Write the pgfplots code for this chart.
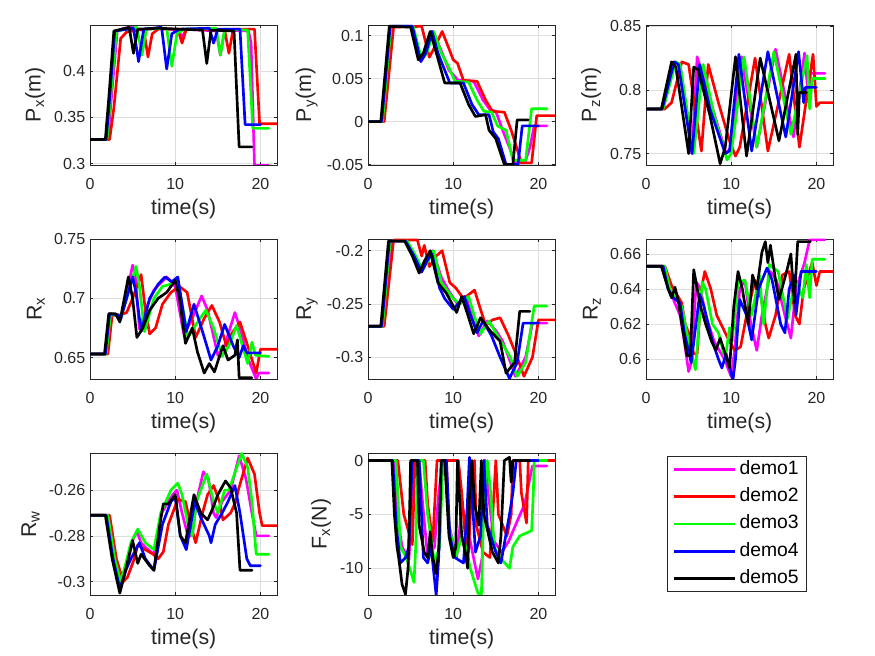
\documentclass[border=0pt]{standalone}
\usepackage{fontspec}
\setmainfont{Liberation Sans}
\usepackage{pgfplots}
\pgfplotsset{compat=1.18}
\definecolor{mg}{rgb}{1,0,1}
\definecolor{gr}{rgb}{0,1,0}
\definecolor{ax}{rgb}{0.15,0.15,0.15}
\pgfplotsset{
  mat/.style={
    scale only axis, width=140.625pt, height=105pt, anchor=south west,
    xmin=0, xmax=22, xtick={0,10,20},
    grid=major, major grid style={line width=0.4pt, draw=black!13},
    axis line style={line width=0.5pt, draw=ax},
    tick style={line width=0.5pt, draw=ax},
    tick align=inside, major tick length=2.5pt,
    ticklabel style={font=\fontsize{12}{12}\selectfont, text=ax},
    xticklabel style={yshift=-6.5pt},
    label style={font=\fontsize{16}{16}\selectfont, text=ax},
    xlabel={time(s)},
    scaled y ticks=false,
    yticklabel style={/pgf/number format/fixed, /pgf/number format/precision=3},
    /pgf/number format/assume math mode=true,
    every axis plot/.append style={line width=2pt, line join=round, line cap=round},
    clip=true,
  }
}
\begin{document}
\begin{tikzpicture}
\useasboundingbox (0,0) rectangle (656.25pt,492pt);
% ---------------- Px
\begin{axis}[mat, at={(67.5pt,368.25pt)}, ymin=0.2985, ymax=0.4495, ytick={0.3,0.35,0.4}, ylabel={P\textsubscript{x}(m)}]
\addplot[mg] coordinates {(0,0.326)(2.1,0.326)(2.5,0.37)(3.2,0.443)(4,0.446)(5,0.447)(6,0.444)(8,0.446)(10.4,0.444)(10.8,0.436)(11.3,0.445)(13,0.444)(14.8,0.443)(15.3,0.417)(15.8,0.444)(18.6,0.443)(18.9,0.43)(19.3,0.298)(21,0.298)};
\addplot[red] coordinates {(0,0.326)(2.3,0.326)(2.8,0.36)(3.6,0.435)(4.3,0.442)(6.3,0.445)(6.8,0.415)(7.3,0.44)(8,0.445)(10.3,0.445)(10.8,0.43)(11.3,0.445)(15.8,0.444)(16.3,0.419)(16.8,0.445)(19.3,0.445)(19.9,0.343)(22,0.343)};
\addplot[gr] coordinates {(0,0.326)(2.0,0.326)(2.4,0.37)(3.1,0.443)(5.5,0.447)(6.1,0.417)(6.6,0.445)(9,0.446)(9.6,0.405)(10.2,0.44)(11,0.445)(14.8,0.446)(15.3,0.417)(15.8,0.445)(18.5,0.444)(19.1,0.338)(21,0.338)};
\addplot[blue] coordinates {(0,0.326)(1.9,0.326)(2.3,0.37)(2.9,0.443)(5.1,0.446)(5.7,0.41)(6.3,0.445)(8.4,0.447)(9,0.402)(9.6,0.44)(10.5,0.445)(14,0.446)(14.5,0.43)(15,0.445)(17.6,0.445)(18.2,0.342)(20,0.342)};
\addplot[black] coordinates {(0,0.326)(1.8,0.326)(2.2,0.37)(2.8,0.443)(4.6,0.447)(5.1,0.419)(5.6,0.445)(8,0.446)(13.2,0.444)(13.7,0.408)(14.2,0.444)(16.9,0.443)(17.5,0.318)(19,0.318)};
\end{axis}
% ---------------- Py
\begin{axis}[mat, at={(276pt,368.25pt)}, ymin=-0.0505, ymax=0.1125, ytick={-0.05,0,0.05,0.1}, ylabel={P\textsubscript{y}(m)}]
\addplot[mg] coordinates {(0,0)(1.8,0)(2.8,0.111)(5.2,0.111)(6.2,0.07)(6.8,0.08)(7.6,0.105)(8.5,0.085)(9.5,0.06)(10.6,0.048)(12.4,0.047)(13.5,0.025)(14.3,0.014)(15,0.012)(15.8,-0.01)(17.3,-0.048)(18.4,-0.048)(19,-0.03)(19.5,-0.005)(21,-0.005)};
\addplot[red] coordinates {(0,0)(1.9,0)(3,0.11)(6.3,0.111)(7.2,0.075)(8,0.09)(8.7,0.105)(9.5,0.085)(10,0.072)(10.5,0.068)(11.2,0.048)(12.8,0.047)(13.8,0.025)(14.6,0.012)(16,0.011)(16.8,-0.01)(18,-0.048)(19.2,-0.048)(19.8,0.007)(22,0.007)};
\addplot[gr] coordinates {(0,0)(1.7,0)(2.7,0.111)(5.3,0.111)(6.3,0.072)(6.9,0.08)(7.7,0.105)(8.6,0.08)(9.4,0.065)(10.2,0.047)(11.8,0.046)(12.8,0.025)(13.6,0.012)(14.5,0.011)(15.2,-0.005)(16.2,-0.01)(17,-0.045)(18.5,-0.045)(19.2,0.015)(21,0.015)};
\addplot[blue] coordinates {(0,0)(1.6,0)(2.6,0.111)(5.2,0.111)(6.2,0.07)(6.8,0.08)(7.5,0.105)(8.2,0.08)(9.0,0.06)(9.6,0.045)(11.2,0.045)(12.2,0.02)(13,0.008)(14.2,0.008)(14.7,-0.012)(15.3,-0.02)(16.2,-0.05)(17.6,-0.05)(18.1,-0.005)(20,-0.005)};
\addplot[black] coordinates {(0,0)(1.5,0)(2.5,0.111)(5,0.11)(5.9,0.072)(6.5,0.08)(7.3,0.105)(8.3,0.07)(9,0.045)(10.8,0.045)(11.8,0.02)(12.6,0.006)(13.8,0.008)(14.2,-0.01)(15,-0.02)(16,-0.05)(17,-0.05)(17.5,0.002)(18.8,0.002)};
\end{axis}
% ---------------- Pz
\begin{axis}[mat, at={(484.5pt,368.25pt)}, ymin=0.741, ymax=0.851, ytick={0.75,0.8,0.85}, ylabel={P\textsubscript{z}(m)}]
\addplot[mg] coordinates {(0,0.785)(2,0.785)(3.4,0.822)(4,0.82)(5.4,0.75)(6,0.826)(6.5,0.815)(9.4,0.75)(10,0.755)(11.2,0.826)(13,0.755)(15.2,0.832)(17.3,0.763)(18.6,0.829)(19.1,0.79)(19.3,0.813)(21,0.813)};
\addplot[red] coordinates {(0,0.785)(2.2,0.785)(3,0.79)(4.2,0.822)(5,0.82)(6.5,0.752)(7.3,0.82)(8.5,0.79)(9.8,0.76)(10.5,0.748)(11,0.755)(12.8,0.825)(14.3,0.752)(16.8,0.828)(18,0.755)(19.6,0.828)(20,0.787)(20.4,0.79)(22,0.79)};
\addplot[gr] coordinates {(0,0.785)(2,0.785)(3.5,0.822)(4,0.82)(5.6,0.75)(6.7,0.82)(8,0.78)(9.5,0.745)(10,0.75)(11.5,0.826)(13,0.755)(15,0.83)(17,0.765)(18.9,0.827)(19.2,0.785)(19.5,0.809)(21,0.809)};
\addplot[blue] coordinates {(0,0.785)(1.9,0.785)(3.3,0.822)(3.8,0.82)(5.4,0.75)(6.3,0.82)(7.5,0.785)(9.3,0.75)(9.8,0.752)(10.9,0.828)(12.4,0.752)(14.3,0.83)(16.4,0.763)(17.9,0.83)(18.5,0.79)(18.7,0.802)(20,0.802)};
\addplot[black] coordinates {(0,0.785)(1.8,0.785)(3,0.822)(3.5,0.818)(5,0.75)(5.6,0.818)(6.1,0.816)(7.5,0.78)(8.7,0.742)(9.3,0.755)(10.5,0.826)(11.8,0.748)(13.4,0.825)(15.6,0.76)(17.6,0.828)(17.8,0.765)(18,0.798)(18.8,0.798)};
\end{axis}
% ---------------- Rx
\begin{axis}[mat, at={(67.5pt,207.75pt)}, ymin=0.632, ymax=0.75, ytick={0.65,0.7,0.75}, ylabel={R\textsubscript{x}}]
\addplot[mg] coordinates {(0,0.653)(1.9,0.653)(2.4,0.686)(3.3,0.686)(3.6,0.682)(4.2,0.7)(5.0,0.728)(5.3,0.72)(5.8,0.674)(6.5,0.69)(7.5,0.707)(9,0.718)(10,0.71)(11,0.67)(11.8,0.68)(13.1,0.702)(13.8,0.69)(15,0.652)(15.8,0.66)(17,0.688)(17.8,0.67)(18.5,0.65)(19.5,0.632)(19.8,0.637)(21,0.637)};
\addplot[red] coordinates {(0,0.653)(2.1,0.653)(2.6,0.686)(3.6,0.686)(4.3,0.688)(5,0.7)(6,0.72)(6.5,0.69)(7,0.67)(7.7,0.675)(8.5,0.695)(9.5,0.705)(10.5,0.71)(11.4,0.705)(12.4,0.667)(13.4,0.683)(14.3,0.694)(15.2,0.68)(16,0.66)(16.6,0.67)(17.6,0.68)(18.5,0.66)(19.5,0.637)(20,0.657)(22,0.657)};
\addplot[gr] coordinates {(0,0.653)(1.9,0.653)(2.4,0.686)(3.3,0.686)(3.6,0.683)(4.5,0.705)(5.4,0.727)(5.8,0.71)(6.4,0.672)(7.5,0.7)(8.5,0.71)(9.5,0.712)(10.3,0.716)(11.5,0.667)(12.8,0.682)(13.6,0.69)(14.5,0.675)(15.5,0.651)(16.3,0.66)(17.2,0.677)(18.5,0.645)(19,0.663)(19.4,0.652)(21,0.651)};
\addplot[blue] coordinates {(0,0.653)(1.8,0.653)(2.3,0.687)(3.3,0.686)(3.6,0.683)(4.3,0.7)(5,0.718)(5.4,0.705)(6,0.672)(7,0.7)(8,0.712)(8.8,0.718)(9.6,0.714)(10.3,0.718)(11.3,0.672)(12.2,0.695)(13.2,0.672)(14.2,0.648)(15,0.66)(15.8,0.678)(16.8,0.66)(17.5,0.65)(18,0.66)(18.4,0.654)(20,0.654)};
\addplot[black] coordinates {(0,0.653)(1.7,0.653)(2.2,0.687)(3,0.687)(3.5,0.68)(4.5,0.718)(5,0.7)(5.5,0.667)(6.2,0.675)(7,0.69)(8,0.7)(9,0.705)(10,0.715)(10.5,0.7)(11.2,0.662)(12,0.675)(12.6,0.655)(13.4,0.637)(14,0.645)(14.6,0.638)(15.6,0.66)(16.2,0.648)(17,0.652)(17.3,0.665)(17.5,0.633)(19,0.633)};
\end{axis}
% ---------------- Ry
\begin{axis}[mat, at={(276pt,207.75pt)}, ymin=-0.3205, ymax=-0.189, ytick={-0.3,-0.25,-0.2}, ylabel={R\textsubscript{y}}]
\addplot[mg] coordinates {(0,-0.271)(1.8,-0.271)(2.7,-0.191)(4.5,-0.191)(5.5,-0.205)(6.2,-0.22)(6.8,-0.21)(7.6,-0.2)(8.6,-0.225)(9.5,-0.238)(10.5,-0.25)(11.5,-0.243)(12.3,-0.265)(13,-0.28)(14,-0.266)(15,-0.275)(15.8,-0.285)(16.5,-0.3)(17.3,-0.318)(18.5,-0.3)(19.3,-0.268)(21,-0.268)};
\addplot[red] coordinates {(0,-0.271)(1.9,-0.271)(3,-0.19)(5.8,-0.19)(6.3,-0.205)(6.6,-0.195)(7.2,-0.215)(8,-0.205)(8.7,-0.2)(9.6,-0.23)(10.3,-0.235)(11.2,-0.245)(12.5,-0.237)(13.2,-0.255)(13.8,-0.27)(14.6,-0.265)(15.5,-0.263)(16.5,-0.28)(17.5,-0.3)(18.3,-0.318)(19.3,-0.3)(20,-0.265)(22,-0.265)};
\addplot[gr] coordinates {(0,-0.271)(1.7,-0.271)(2.6,-0.191)(4.6,-0.191)(5.6,-0.205)(6.4,-0.218)(7,-0.21)(7.7,-0.2)(8.6,-0.23)(10,-0.245)(10.8,-0.25)(11.8,-0.243)(12.5,-0.262)(13.2,-0.278)(14.2,-0.266)(15.2,-0.28)(16.7,-0.3)(17.5,-0.318)(18.5,-0.305)(19.5,-0.252)(21,-0.252)};
\addplot[blue] coordinates {(0,-0.271)(1.6,-0.271)(2.5,-0.191)(4.4,-0.191)(5.4,-0.205)(6.3,-0.22)(6.9,-0.21)(7.5,-0.203)(8.4,-0.235)(9,-0.245)(10,-0.255)(11.3,-0.243)(12,-0.26)(12.8,-0.277)(13.5,-0.266)(14.5,-0.28)(15.5,-0.3)(16.6,-0.32)(17.5,-0.305)(18.2,-0.268)(20,-0.268)};
\addplot[black] coordinates {(0,-0.271)(1.5,-0.271)(2.4,-0.191)(4.3,-0.191)(5.2,-0.205)(6,-0.221)(6.6,-0.21)(7.3,-0.2)(8.2,-0.23)(9.2,-0.24)(10.4,-0.258)(11,-0.243)(11.7,-0.26)(12.4,-0.278)(13.2,-0.263)(14.3,-0.275)(15.5,-0.285)(16.2,-0.315)(17.2,-0.305)(17.8,-0.257)(19,-0.257)};
\end{axis}
% ---------------- Rz
\begin{axis}[mat, at={(484.5pt,207.75pt)}, ymin=0.5887, ymax=0.6685, ytick={0.6,0.62,0.64,0.66}, ylabel={R\textsubscript{z}}]
\addplot[mg] coordinates {(0,0.653)(2,0.653)(2.8,0.64)(3.3,0.633)(4,0.625)(4.5,0.61)(5,0.593)(5.3,0.598)(5.9,0.644)(6.4,0.64)(7,0.625)(8,0.61)(8.6,0.605)(9.2,0.6)(10,0.59)(10.4,0.605)(11,0.64)(11.6,0.645)(12.3,0.62)(13,0.605)(13.6,0.625)(14.6,0.65)(15.3,0.645)(16.3,0.625)(17,0.612)(17.6,0.64)(18.6,0.655)(19.2,0.668)(21,0.668)};
\addplot[red] coordinates {(0,0.653)(2.2,0.653)(3,0.642)(3.6,0.637)(4.2,0.632)(4.6,0.62)(5,0.615)(5.6,0.603)(6,0.603)(6.5,0.64)(6.9,0.65)(7.6,0.64)(8.3,0.625)(9,0.618)(9.8,0.61)(10.4,0.605)(11.1,0.607)(11.8,0.625)(12.8,0.645)(13.5,0.635)(14,0.62)(14.4,0.612)(15.2,0.625)(16,0.648)(16.8,0.65)(17.5,0.625)(18,0.62)(18.5,0.64)(19.5,0.655)(20,0.642)(20.4,0.65)(22,0.65)};
\addplot[gr] coordinates {(0,0.653)(2.2,0.653)(2.8,0.64)(3.4,0.635)(4.2,0.63)(5,0.61)(5.5,0.6)(5.8,0.594)(6.6,0.644)(7,0.64)(7.8,0.62)(8.5,0.615)(9.3,0.6)(9.8,0.618)(10.1,0.61)(10.8,0.644)(11.6,0.645)(12.4,0.625)(13.3,0.648)(13.8,0.62)(14.5,0.654)(15.5,0.65)(16.6,0.623)(17.5,0.645)(18.4,0.635)(18.8,0.654)(19.2,0.635)(19.5,0.657)(21,0.657)};
\addplot[blue] coordinates {(0,0.653)(2,0.653)(2.6,0.64)(3.2,0.635)(4,0.632)(4.5,0.615)(5.3,0.598)(6.3,0.637)(6.8,0.63)(7.3,0.62)(7.8,0.61)(8.5,0.6)(8.9,0.595)(9.4,0.603)(10.2,0.588)(10.5,0.6)(11,0.634)(11.8,0.625)(12.4,0.611)(13.2,0.64)(14.2,0.652)(14.8,0.645)(15.8,0.62)(16.3,0.615)(16.8,0.64)(17.4,0.648)(17.6,0.625)(18.2,0.65)(20,0.65)};
\addplot[black] coordinates {(0,0.653)(1.8,0.653)(2.6,0.64)(3,0.635)(3.4,0.641)(3.8,0.633)(4.2,0.62)(4.8,0.602)(5.2,0.602)(5.6,0.651)(6.4,0.63)(7,0.62)(7.7,0.61)(8.2,0.605)(8.7,0.612)(9.5,0.6)(9.8,0.595)(10.3,0.63)(10.8,0.65)(11.3,0.64)(12,0.62)(12.5,0.648)(13,0.64)(13.6,0.661)(14,0.667)(14.3,0.655)(14.6,0.665)(15.2,0.645)(15.6,0.634)(16.5,0.65)(17,0.66)(17.4,0.632)(17.8,0.667)(19.3,0.667)};
\end{axis}
% ---------------- Rw
\begin{axis}[mat, at={(67.5pt,45.75pt)}, height=106.5pt, ymin=-0.3058, ymax=-0.2438, ytick={-0.3,-0.28,-0.26}, ylabel={R\textsubscript{w}}]
\addplot[mg] coordinates {(0,-0.271)(2,-0.271)(2.8,-0.29)(3.6,-0.303)(4.2,-0.295)(5,-0.282)(5.5,-0.278)(6,-0.283)(6.5,-0.285)(7.5,-0.288)(8.4,-0.27)(9.7,-0.262)(10.2,-0.26)(10.8,-0.27)(11.5,-0.28)(12,-0.28)(12.5,-0.265)(13.3,-0.252)(13.9,-0.255)(14.5,-0.27)(14.8,-0.272)(15.5,-0.265)(16.5,-0.26)(17.5,-0.245)(18.3,-0.255)(19,-0.27)(19.5,-0.28)(21,-0.28)};
\addplot[red] coordinates {(0,-0.271)(2.3,-0.271)(3.1,-0.29)(3.9,-0.3)(4.4,-0.298)(5.2,-0.29)(5.6,-0.284)(6.5,-0.286)(7.4,-0.288)(8,-0.29)(8.6,-0.287)(9.2,-0.275)(10.3,-0.264)(11.2,-0.265)(11.8,-0.275)(12.4,-0.283)(13.2,-0.27)(13.8,-0.262)(14.5,-0.258)(15.2,-0.265)(15.6,-0.273)(16.5,-0.27)(17.1,-0.265)(17.4,-0.26)(18.5,-0.246)(19.3,-0.253)(19.9,-0.27)(20.2,-0.2755)(22,-0.2755)};
\addplot[gr] coordinates {(0,-0.271)(2.1,-0.271)(2.9,-0.29)(3.6,-0.3)(4.2,-0.292)(4.8,-0.283)(5.6,-0.277)(6.5,-0.283)(7.5,-0.286)(8.3,-0.27)(9.5,-0.26)(10.3,-0.257)(10.8,-0.262)(11.5,-0.275)(12,-0.28)(12.5,-0.265)(13.7,-0.253)(14.5,-0.265)(15,-0.27)(15.8,-0.26)(16.3,-0.26)(17.8,-0.244)(18.5,-0.25)(19,-0.265)(19.5,-0.288)(21,-0.288)};
\addplot[blue] coordinates {(0,-0.271)(1.9,-0.271)(2.7,-0.29)(3.5,-0.303)(4.2,-0.295)(4.8,-0.29)(5.8,-0.283)(6.5,-0.29)(7.5,-0.295)(8.5,-0.275)(9.5,-0.265)(10,-0.263)(10.6,-0.28)(11.3,-0.286)(12.3,-0.265)(13,-0.272)(14,-0.28)(14.2,-0.283)(14.7,-0.275)(15.5,-0.27)(16.2,-0.265)(17,-0.258)(17.6,-0.27)(18.4,-0.29)(18.8,-0.293)(20,-0.293)};
\addplot[black] coordinates {(0,-0.271)(1.8,-0.271)(2.6,-0.29)(3.2,-0.3)(3.5,-0.305)(4.5,-0.29)(5,-0.282)(5.6,-0.292)(6,-0.288)(7,-0.293)(7.5,-0.295)(8.2,-0.275)(8.6,-0.266)(9.2,-0.266)(10,-0.262)(10.6,-0.28)(11.2,-0.283)(12.2,-0.262)(13,-0.27)(13.8,-0.273)(14.4,-0.268)(15,-0.262)(15.9,-0.256)(16.5,-0.259)(17.2,-0.27)(17.6,-0.295)(19,-0.295)};
\end{axis}
% ---------------- Fx
\begin{axis}[mat, at={(276pt,45.75pt)}, height=106.5pt, ymin=-12.47, ymax=0.7, ytick={-10,-5,0}, ylabel={F\textsubscript{x}(N)},
  legend style={at={(1.596,0.979)}, anchor=north west, draw=ax, line width=0.5pt, fill=white,
    font=\fontsize{14.5}{15}\selectfont, inner xsep=3.8pt, inner ysep=0pt, row sep=0pt,
    nodes={inner xsep=2pt, inner ysep=3.4pt, text height=10.5pt, text depth=3pt}},
  legend cell align=left,
  legend image code/.code={\draw[#1, line width=2.2pt, line cap=butt] (0pt,0pt) -- (46pt,0pt);}]
\addplot[mg] coordinates {(0,0)(3.0,0)(3.4,-5)(4,-8)(4.8,-9.2)(5.1,-5)(5.3,0)(6,0)(6.3,-3)(7,-9)(7.8,-8)(8.3,-3)(8.8,0)(9.2,0)(9.5,-6)(10.4,-9)(10.8,-6)(11,-4)(12,-7.5)(12.9,-11)(13.4,-9)(13.6,0)(13.8,0)(14.1,-3)(14.8,-7.5)(15.7,-8.5)(16.5,-7.5)(17.3,-6)(18.4,-4)(18.9,-2)(19.3,-0.5)(21,-0.5)};
\addlegendentry{demo1}
\addplot[red] coordinates {(0,0)(3.5,0)(4.2,-5)(5.2,-7.8)(5.4,-3)(5.5,0)(6.7,0)(7,-4)(7.6,-7.5)(7.9,-3)(8.1,0)(10.6,0)(11,-3)(11.4,-7)(11.8,-8.5)(12.2,-2)(12.5,0)(12.7,-6)(13.5,-8.5)(14.3,-9)(14.6,-5.5)(15,0)(15.3,-5)(16.3,-7)(16.8,-5)(17,0)(17.8,0)(18,-3)(18.6,-5.8)(18.8,0)(22,0)};
\addlegendentry{demo2}
\addplot[gr] coordinates {(0,0)(3.3,0)(3.8,-8)(4.5,-9)(5.4,-11.3)(5.6,-8)(5.8,0)(6.5,0)(7,-5)(7.8,-9.5)(8.4,-8)(8.8,0)(9.1,0)(9.5,-6)(10.3,-9)(11,-7)(11.5,-8)(12,-10)(12.9,-12.3)(13.3,-12.5)(13.6,-4)(14,0)(14.4,-3)(14.8,-8)(15.5,-9)(16.6,-10)(17,-8)(17.8,-7)(19.2,-6.5)(19.4,-3)(19.5,0)(21,0)};
\addlegendentry{demo3}
\addplot[blue] coordinates {(0,0)(2.9,0)(3.3,-6)(3.8,-9.5)(4.4,-9)(4.8,-8)(5.2,0)(6,0)(6.5,-9)(7,-9.5)(7.4,-8)(8,-12.5)(8.3,-9)(8.6,0)(9.2,0)(9.6,-7)(10.2,-9)(11.2,-9.5)(11.6,-5)(11.9,0.3)(12.2,-3)(12.6,-8.5)(13.2,-7)(13.6,0)(14,-6)(15,-8.5)(15.6,-9.5)(16.6,-5)(17,-3)(17.4,0)(20,0)};
\addlegendentry{demo4}
\addplot[black] coordinates {(0,0)(2.8,0)(3.1,-5)(3.4,-8)(3.6,-9)(4,-11.5)(4.4,-12.4)(4.7,-10)(4.9,-4)(5.0,0)(5.8,0)(6,-6)(6.6,-8.5)(7,-9)(7.3,-6.6)(7.6,-9)(8,-10.5)(8.3,-8.3)(8.6,0)(9,0)(9.5,-7)(10,-9)(10.3,-8)(10.5,0)(11,-7)(11.4,-8.5)(11.7,-10)(11.9,-3.5)(12.2,0)(12.5,-4)(13,-6)(13.3,0)(13.6,-5)(14.6,-8.5)(15.3,-9.5)(15.6,-7)(16,0)(16.6,0.3)(16.8,-2)(17,0)(19,0)};
\addlegendentry{demo5}
\end{axis}
\end{tikzpicture}
\end{document}
